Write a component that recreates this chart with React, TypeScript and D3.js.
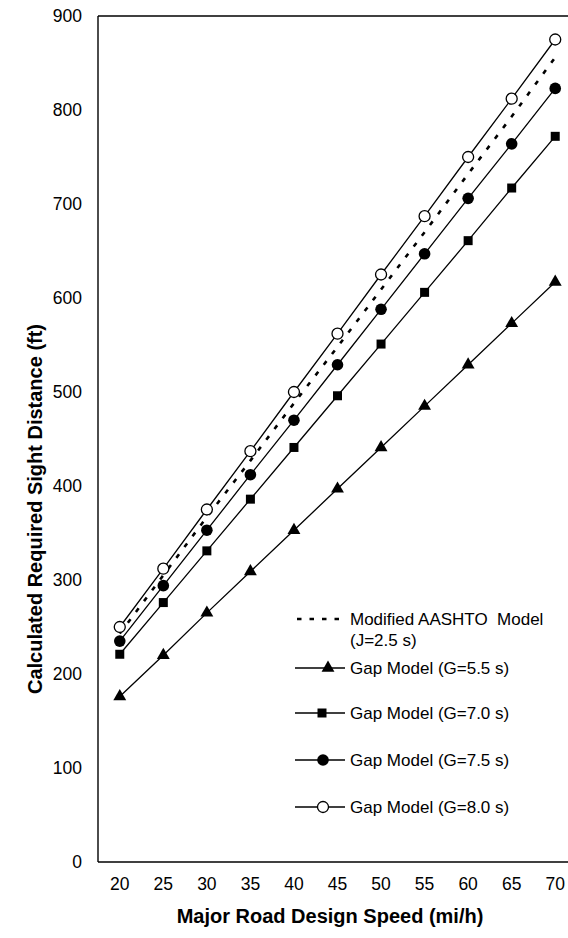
import React from "react";
import * as d3 from "d3";

const speeds = [20, 25, 30, 35, 40, 45, 50, 55, 60, 65, 70];
const aashtoJ25 = [243, 305, 367, 427, 488, 548, 609, 670, 732, 793, 856];
const gapG55 = [176, 220, 265, 309, 353, 397, 441, 485, 529, 573, 617];
const gapG70 = [221, 276, 331, 386, 441, 496, 551, 606, 661, 717, 772];
const gapG75 = [235, 294, 353, 412, 470, 529, 588, 647, 706, 764, 823];
const gapG80 = [250, 312, 375, 437, 500, 562, 625, 687, 750, 812, 875];
const yTicks = [0, 100, 200, 300, 400, 500, 600, 700, 800, 900];
const legendLabels = [
  "Modified AASHTO  Model",
  "(J=2.5 s)",
  "Gap Model (G=5.5 s)",
  "Gap Model (G=7.0 s)",
  "Gap Model (G=7.5 s)",
  "Gap Model (G=8.0 s)",
];

const W = 568;
const H = 938;
const left = 98;
const right = 577;
const top = 16;
const bottom = 862;
const FONT = "'Liberation Sans', Arial, Helvetica, sans-serif";

export default function App() {
  const x = d3
    .scalePoint<number>()
    .domain(speeds)
    .range([left, right])
    .padding(0.5);
  const y = d3.scaleLinear().domain([0, 900]).range([bottom, top]);

  const line = (vals: number[]) =>
    d3
      .line<number>()
      .x((_, i) => x(speeds[i]) as number)
      .y((v) => y(v))(vals) || "";

  const tri = d3.symbol().type(d3.symbolTriangle).size(72)() || "";
  const sq = d3.symbol().type(d3.symbolSquare).size(81)() || "";

  const solidSeries = [
    { vals: gapG55, kind: "tri" },
    { vals: gapG70, kind: "sq" },
    { vals: gapG75, kind: "dot" },
    { vals: gapG80, kind: "open" },
  ];

  const marker = (kind: string, cx: number, cy: number, key: string) => {
    if (kind === "tri")
      return <path key={key} d={tri} transform={`translate(${cx},${cy})`} fill="#000" />;
    if (kind === "sq")
      return <path key={key} d={sq} transform={`translate(${cx},${cy})`} fill="#000" />;
    if (kind === "dot") return <circle key={key} cx={cx} cy={cy} r={5.8} fill="#000" />;
    return <circle key={key} cx={cx} cy={cy} r={5.5} fill="#fff" stroke="#000" strokeWidth={1.3} />;
  };

  const legendRows = [
    { kind: "tri", y: 668, mx: 328 },
    { kind: "sq", y: 713, mx: 322 },
    { kind: "dot", y: 760, mx: 323 },
    { kind: "open", y: 807, mx: 323 },
  ];

  return (
    <svg
      width={W}
      height={H}
      style={{ position: "absolute", left: 0, top: 0, background: "#fff" }}
      fontFamily={FONT}
    >
      <rect x={0} y={0} width={W} height={H} fill="#fff" />
      {/* axes */}
      <line x1={left} y1={top} x2={left} y2={bottom} stroke="#000" strokeWidth={1.4} />
      <line x1={left} y1={bottom} x2={W} y2={bottom} stroke="#000" strokeWidth={1.4} />
      <line x1={left} y1={top} x2={W} y2={top} stroke="#000" strokeWidth={1.4} />

      {yTicks.map((t) => (
        <text key={t} x={82} y={y(t)} dy="0.36em" textAnchor="end" fontSize={17.5} fill="#000">
          {t}
        </text>
      ))}
      {speeds.map((s) => (
        <text key={s} x={x(s)} y={890} textAnchor="middle" fontSize={17.5} fill="#000">
          {s}
        </text>
      ))}

      <text x={330} y={923} textAnchor="middle" fontSize={20} fontWeight="bold" fill="#000">
        Major Road Design Speed (mi/h)
      </text>
      <text
        transform={`translate(41.5,${(top + bottom) / 2 + 70}) rotate(-90)`}
        textAnchor="middle"
        fontSize={20}
        fontWeight="bold"
        fill="#000"
      >
        Calculated Required Sight Distance (ft)
      </text>

      {/* series */}
      <path d={line(aashtoJ25)} fill="none" stroke="#000" strokeWidth={2.6} strokeDasharray="4.5 9" />
      {solidSeries.map((s, i) => (
        <g key={i}>
          <path d={line(s.vals)} fill="none" stroke="#000" strokeWidth={1.3} />
          {s.vals.map((v, j) => marker(s.kind, x(speeds[j]) as number, y(v), `${i}-${j}`))}
        </g>
      ))}

      {/* legend */}
      <line x1={297} y1={619} x2={343} y2={619} stroke="#000" strokeWidth={2.6} strokeDasharray="4.5 8" />
      <text x={350} y={625} fontSize={17} fill="#000" style={{ whiteSpace: "pre" }}>
        {legendLabels[0]}
      </text>
      <text x={350} y={646} fontSize={17} fill="#000">
        {legendLabels[1]}
      </text>
      {legendRows.map((r, i) => (
        <g key={r.kind}>
          <line x1={295} y1={r.y} x2={345} y2={r.y} stroke="#000" strokeWidth={1.3} />
          {marker(r.kind, r.mx, r.y, `lg-${i}`)}
          <text x={350} y={r.y} dy="0.36em" fontSize={17} fill="#000">
            {legendLabels[i + 2]}
          </text>
        </g>
      ))}
    </svg>
  );
}
